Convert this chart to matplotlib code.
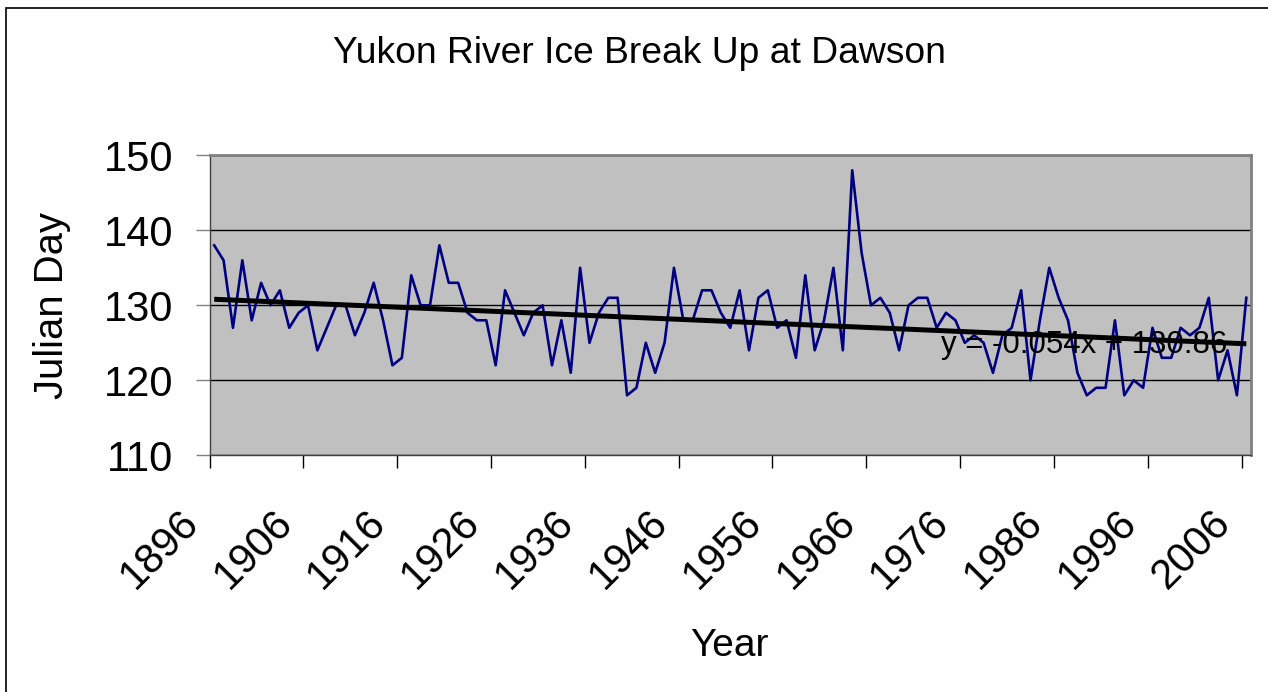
import numpy as np
import matplotlib
matplotlib.use("Agg")
import matplotlib.pyplot as plt
import matplotlib.patches as mpatches
import matplotlib.transforms as mtransforms

###############################
# Data
FIRST_YEAR = 1896
break_up_day = [138, 136, 127, 136, 128, 133, 130, 132, 127, 129, 130,
                124, 127, 130, 130, 126, 129, 133, 128, 122, 123,
                134, 130, 130, 138, 133, 133, 129, 128, 128, 122,
                132, 129, 126, 129, 130, 122, 128, 121, 135, 125,
                129, 131, 131, 118, 119, 125, 121, 125, 135, 128,
                128, 132, 132, 129, 127, 132, 124, 131, 132, 127,
                128, 123, 134, 124, 128, 135, 124, 148, 137, 130,
                131, 129, 124, 130, 131, 131, 127, 129, 128, 125,
                126, 125, 121, 126, 127, 132, 120, 128, 135, 131,
                128, 121, 118, 119, 119, 128, 118, 120, 119, 127,
                123, 123, 127, 126, 127, 131, 120, 124, 118, 131]
years = [FIRST_YEAR + i for i in range(len(break_up_day))]
label_every = 10
y_ticks = [110, 120, 130, 140, 150]
# Excel linear trendline as printed on the chart (x = 1, 2, ...)
TREND_SLOPE = -0.054
TREND_INTERCEPT = 130.86
###############################

plt.rcParams['font.family'] = ['Liberation Sans', 'DejaVu Sans']

W, H = 1268, 692
fig = plt.figure(figsize=(W / 100, H / 100), dpi=100)

# outer chart border (only top and left visible)
fig.patches.append(mpatches.Rectangle((6 / W, -0.1), 1.2, 1.1 - 8 / H,
                                      transform=fig.transFigure, fill=False,
                                      ec='black', lw=1.2))

left, right, top, bottom = 209.5, 1251, 155.3, 455.3
ax = fig.add_axes([left / W, 1 - bottom / H, (right - left) / W, (bottom - top) / H])
ax.set_facecolor('#c0c0c0')

x = np.arange(len(break_up_day))
ax.plot(x, break_up_day, color='#000080', lw=1.9, zorder=3)
trend = TREND_SLOPE * (x + 1) + TREND_INTERCEPT
ax.plot(x, trend, color='black', lw=3.6, zorder=4, solid_capstyle='butt')
ax.text(77.5, 123.64, f"y = {TREND_SLOPE}x + {TREND_INTERCEPT}", fontsize=22.5,
        ha='left', va='baseline', zorder=5)

ax.set_xlim(-0.5, len(x) - 0.5)
ax.set_ylim(y_ticks[0], y_ticks[-1])
ax.set_yticks(y_ticks)
ax.yaxis.grid(True, color='black', lw=1)
ax.set_axisbelow(True)

ax.set_xticks(x[::label_every] - 0.5)
ax.set_xticklabels([str(y) for y in years[::label_every]])
ax.tick_params(axis='x', length=9.4, width=1, color='black', labelsize=30, pad=35)
ax.tick_params(axis='y', length=10, width=1, color='#808080', labelsize=30, pad=16)
offset = mtransforms.ScaledTranslation(-0.17, 0, fig.dpi_scale_trans)
for lab in ax.get_xticklabels():
    lab.set_rotation(45)
    lab.set_ha('right')
    lab.set_va('center')
    lab.set_rotation_mode('anchor')
    lab.set_transform(lab.get_transform() + offset)

for side in ['top', 'right']:
    ax.spines[side].set_color('#808080')
    ax.spines[side].set_linewidth(2)
for side in ['left', 'bottom']:
    ax.spines[side].set_color('#404040')
    ax.spines[side].set_linewidth(1)

fig.text(639 / W, 1 - 63 / H, "Yukon River Ice Break Up at Dawson",
         ha='center', va='baseline', fontsize=26.8)
fig.text(63 / W, 1 - 306 / H, "Julian Day", rotation=90, rotation_mode='anchor',
         ha='center', va='baseline', fontsize=28.8)
fig.text(729 / W, 1 - 656 / H, "Year", ha='center', va='baseline', fontsize=28)

fig.savefig("out.png", dpi=100)
